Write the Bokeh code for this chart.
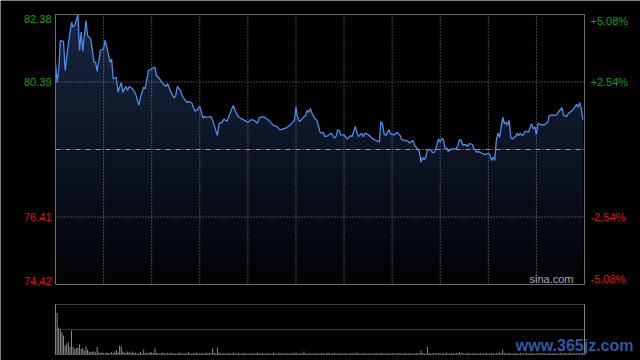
import numpy as np
from bokeh.plotting import figure
from bokeh.models import Range1d, Label
from bokeh.embed import file_html
from bokeh.resources import INLINE

# ---------------- data ----------------
session_minutes = 330          # HK session: 9:30-12:00, 13:00-16:00
prev_close = 78.40
y_lo, y_hi = 74.42, 82.38

minutes = [0, 1, 2, 3, 5, 6, 8, 10, 11, 12, 14, 15, 16, 17, 19, 20, 22, 24, 25, 26,
           28, 30, 31, 32, 34, 35, 36, 38, 39, 41, 42, 44, 45, 46, 48, 50, 52, 53, 55, 56,
           58, 60, 62, 63, 65, 67, 69, 70, 72, 74, 75, 76, 78, 79, 80, 82, 83, 85, 87, 88,
           90, 92, 93, 95, 97, 98, 99, 101, 102, 104, 105, 107, 108, 110, 111, 112, 114, 116, 118, 120,
           122, 124, 126, 127, 129, 131, 133, 136, 138, 140, 142, 144, 146, 148, 149, 150, 151, 152, 153, 155,
           156, 157, 158, 159, 160, 162, 163, 165, 166, 167, 168, 170, 172, 174, 175, 176, 177, 178, 180, 182,
           184, 185, 187, 188, 189, 191, 192, 193, 195, 198, 200, 202, 203, 204, 205, 206, 208, 209, 211, 212,
           213, 215, 216, 218, 220, 221, 223, 224, 226, 227, 228, 229, 230, 231, 232, 234, 235, 236, 237, 239,
           240, 241, 242, 243, 244, 245, 247, 250, 251, 252, 253, 254, 256, 257, 258, 260, 261, 263, 264, 266,
           268, 270, 271, 272, 273, 274, 275, 276, 277, 279, 280, 281, 282, 283, 284, 285, 287, 288, 289, 290,
           291, 292, 293, 295, 297, 298, 299, 300, 301, 303, 305, 307, 308, 310, 312, 313, 314, 316, 317, 319,
           320, 322, 324, 325, 326, 327, 328, 329]

prices = [80.97, 80.38, 80.73, 81.61, 81.59, 80.73, 81.52, 82.15, 82.01, 82.06, 82.38, 81.32, 81.86, 81.30, 82.20, 81.76, 81.66, 80.97, 80.97, 80.70,
          81.32, 81.37, 81.63, 81.42, 80.97, 81.07, 80.48, 80.53, 80.09, 80.38, 80.09, 80.26, 80.14, 80.26, 80.19, 80.04, 79.70, 79.94, 80.24, 80.19,
          80.73, 80.78, 80.83, 80.58, 80.48, 80.34, 80.26, 80.34, 80.09, 79.92, 79.99, 80.26, 80.14, 79.99, 79.91, 79.79, 79.82, 79.77, 79.53, 79.55,
          79.67, 79.33, 79.37, 79.35, 79.37, 79.26, 79.11, 78.81, 79.16, 79.20, 79.30, 79.23, 79.35, 79.60, 79.70, 79.55, 79.37, 79.30, 79.26, 79.20,
          79.28, 79.26, 79.17, 79.33, 79.37, 79.33, 79.26, 79.11, 79.08, 78.98, 79.01, 79.04, 79.11, 79.20, 79.26, 79.65, 79.35, 79.23, 79.26, 79.37,
          79.40, 79.55, 79.50, 79.61, 79.47, 79.30, 79.27, 78.91, 78.88, 78.91, 78.78, 78.81, 78.88, 78.74, 78.78, 78.98, 78.96, 78.83, 78.83, 78.71,
          78.81, 78.78, 79.08, 78.91, 78.78, 78.88, 78.78, 78.88, 78.84, 78.71, 78.67, 78.62, 79.23, 79.15, 78.86, 78.81, 78.98, 78.86, 78.83, 78.86,
          78.91, 78.81, 78.69, 78.67, 78.64, 78.59, 78.67, 78.52, 78.42, 78.32, 78.03, 78.17, 78.10, 78.17, 78.40, 78.39, 78.32, 78.30, 78.39, 78.71,
          78.62, 78.73, 78.69, 78.42, 78.45, 78.34, 78.42, 78.42, 78.52, 78.69, 78.67, 78.54, 78.54, 78.49, 78.57, 78.55, 78.43, 78.32, 78.34, 78.29,
          78.25, 78.29, 78.25, 78.08, 78.17, 78.08, 78.67, 78.89, 78.76, 79.35, 79.16, 79.20, 79.11, 79.26, 78.76, 78.71, 78.78, 78.88, 78.81, 78.88,
          78.81, 78.84, 78.94, 78.91, 79.16, 79.01, 79.07, 78.84, 79.17, 79.13, 79.13, 79.20, 79.40, 79.42, 79.40, 79.45, 79.52, 79.63, 79.40, 79.38,
          79.47, 79.53, 79.65, 79.73, 79.65, 79.78, 79.60, 79.28]

volumes = [100, 83, 54, 49, 44, 38, 18, 22, 25, 16, 48, 15, 11, 13, 13, 20, 11, 13, 8, 16, 10, 6, 5, 6, 6, 4, 15, 4, 3, 4,
           3, 2, 4, 3, 2, 5, 3, 6, 9, 4, 18, 16, 6, 4, 3, 6, 5, 3, 6, 3, 4, 2, 3, 5, 2, 10, 3, 4, 2, 5,
           4, 3, 12, 3, 2, 2, 3, 4, 2, 2, 3, 2, 4, 2, 3, 2, 2, 4, 3, 2, 2, 3, 2, 5, 2, 2, 3, 2, 4, 2,
           2, 3, 2, 2, 4, 2, 3, 2, 12, 3, 2, 14, 4, 2, 2, 3, 2, 2, 3, 2, 2, 4, 2, 2, 3, 2, 2, 2, 3, 2,
           2, 2, 3, 2, 2, 2, 4, 2, 2, 3, 2, 2, 2, 3, 2, 2, 4, 2, 2, 2, 3, 2, 2, 2, 3, 2, 2, 2, 3, 2,
           4, 2, 2, 3, 2, 6, 2, 2, 3, 2, 2, 2, 3, 2, 2, 2, 3, 2, 2, 2, 4, 2, 2, 2, 3, 2, 2, 3, 2, 2,
           2, 3, 2, 2, 2, 3, 2, 2, 4, 2, 2, 2, 3, 2, 2, 2, 3, 2, 2, 2, 3, 2, 2, 3, 2, 2, 2, 3, 2, 2,
           3, 2, 2, 2, 3, 2, 2, 2, 3, 2, 2, 3, 2, 2, 2, 3, 2, 2, 8, 3, 2, 2, 15, 3, 2, 2, 3, 2, 2, 3,
           2, 2, 3, 2, 4, 2, 2, 3, 2, 2, 3, 2, 5, 2, 3, 2, 2, 3, 2, 2, 2, 3, 2, 2, 2, 3, 2, 2, 2, 3,
           2, 2, 3, 2, 2, 3, 2, 4, 2, 10, 3, 2, 2, 3, 2, 2, 2, 3, 2, 2, 3, 2, 2, 2, 3, 2, 2, 3, 2, 2,
           2, 3, 2, 2, 3, 2, 2, 2, 3, 2, 2, 3, 2, 2, 2, 3, 2, 2, 3, 2, 2, 4, 2, 2, 3, 2, 2, 3, 2, 3]
volume_minutes = list(range(len(volumes)))
volume_max = 100

price_ticks = [82.38, 80.39, 76.41, 74.42]
price_tick_labels = ["82.38", "80.39", "76.41", "74.42"]
pct_tick_labels = ["+5.08%", "+2.54%", "-2.54%", "-5.08%"]
time_grid = [30, 60, 90, 120, 150, 180, 210, 240, 270, 300]

# ---------------- layout (pixels) and styles ----------------
W, H = 640, 360
PX_L, PX_R = 55, 584          # price / volume panel left & right
PX_T, PX_B = 14, 284          # price panel top & bottom
VX_T, VX_B = 304, 354         # volume panel top & bottom
UP = "#10a010"
DOWN = "#e01010"
GRID = "#8a8a8a"
FONT = "Liberation Sans"

mpp = session_minutes / (PX_R - PX_L)          # minutes per pixel
upp = (y_hi - y_lo) / (PX_B - PX_T)            # price units per pixel
vpp = volume_max / (VX_B - VX_T)               # volume units per pixel

x_range = Range1d(-PX_L * mpp, session_minutes + (W - PX_R) * mpp)
y_range = Range1d(y_lo - (H - PX_B) * upp, y_hi + PX_T * upp)

p = figure(width=W, height=H, x_range=x_range, y_range=y_range,
           output_backend="svg", toolbar_location=None,
           x_axis_location=None, y_axis_location=None,
           min_border_left=0, min_border_right=0, min_border_top=0, min_border_bottom=0,
           background_fill_color="black", border_fill_color="black", outline_line_color=None)
p.xgrid.visible = False
p.ygrid.visible = False
p.extra_y_ranges = {"vol": Range1d(-(H - VX_B) * vpp, volume_max + VX_T * vpp)}

# ---------------- price panel ----------------
n = 256
frac = np.linspace(0.0, 1.0, n)
img = np.empty((n, 1), dtype=np.uint32)
view = img.view(dtype=np.uint8).reshape((n, 1, 4))
view[:, 0, 0] = (2 + 22 * frac).astype(np.uint8)
view[:, 0, 1] = (3 + 36 * frac).astype(np.uint8)
view[:, 0, 2] = (6 + 60 * frac).astype(np.uint8)
view[:, 0, 3] = 255
p.image_rgba(image=[img], x=0, y=y_lo, dw=session_minutes, dh=y_hi - y_lo)
# black mask above the price line
p.varea(x=minutes, y1=prices, y2=[y_hi] * len(prices), fill_color="black")
p.varea(x=[minutes[-1], session_minutes], y1=[y_lo] * 2, y2=[y_hi] * 2, fill_color="black")

# grid
p.segment(x0=time_grid, y0=[y_lo] * len(time_grid), x1=time_grid, y1=[y_hi] * len(time_grid),
          line_color=GRID, line_dash="1 2", line_width=1)
inner = [v for v in price_ticks if y_lo < v < y_hi]
p.segment(x0=[0] * len(inner), y0=inner, x1=[session_minutes] * len(inner), y1=inner,
          line_color=GRID, line_dash="1 2", line_width=1)
p.segment(x0=[0], y0=[prev_close], x1=[session_minutes], y1=[prev_close],
          line_color="#9a9a9a", line_dash="5 2 1 2", line_width=1)

# price line
p.line(minutes, prices, line_color="#4f8ce8", line_width=1.3)

# frame
p.quad(left=[0], right=[session_minutes], bottom=[y_lo], top=[y_hi],
       fill_color=None, line_color="#6e6e6e", line_width=1)

# axis labels
for v, lab, pct in zip(price_ticks, price_tick_labels, pct_tick_labels):
    col = UP if v > prev_close else DOWN
    base = "top" if v >= y_hi else ("bottom" if v <= y_lo else "middle")
    p.add_layout(Label(x=-4 * mpp, y=v, text=lab, text_align="right", text_baseline=base,
                       text_color=col, text_font=FONT, text_font_size="11px"))
    p.add_layout(Label(x=session_minutes + 6 * mpp, y=v, text=pct, text_align="left",
                       text_baseline=base, text_color=col, text_font=FONT,
                       text_font_size="11px"))

p.add_layout(Label(x=session_minutes - 11 * mpp, y=y_lo, text="sina.com", text_align="right",
                   text_baseline="bottom", text_color="#a8a8a8", text_font=FONT,
                   text_font_size="11px"))

# ---------------- volume panel ----------------
vg = [volume_max, volume_max / 2, 0]
p.segment(x0=[0] * 3, y0=vg, x1=[session_minutes] * 3, y1=vg, y_range_name="vol",
          line_color="#7a7a7a", line_dash="1 1", line_width=1)
p.segment(x0=[session_minutes], y0=[0], x1=[session_minutes], y1=[volume_max],
          y_range_name="vol", line_color="#8a8a8a", line_width=1)
p.vbar(x=volume_minutes, top=volumes, bottom=0, width=0.6, y_range_name="vol",
       fill_color="#909090", line_color=None)

p.add_layout(Label(x=session_minutes + 49 * mpp, y=9 * vpp, y_range_name="vol",
                   text="www.365jz.com", text_align="right", text_baseline="middle",
                   text_color="#2d5aa0", text_font=FONT, text_font_style="bold",
                   text_font_size="16px"))

open("out.html", "w").write(file_html(p, INLINE))
